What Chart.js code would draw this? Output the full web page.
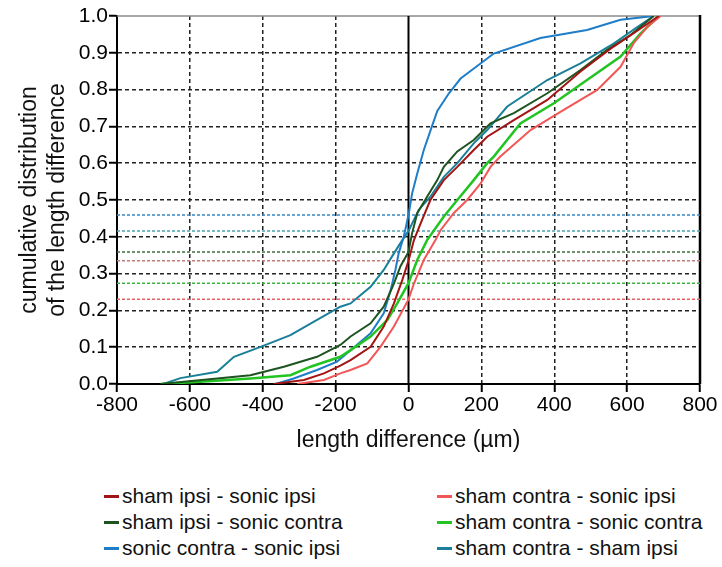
<!DOCTYPE html>
<html>
<head>
<meta charset="utf-8">
<script src="https://cdn.jsdelivr.net/npm/chart.js@4.4.1/dist/chart.umd.min.js"></script>
<style>
  body { margin: 0; background: #fff; }
  #wrap { position: relative; width: 722px; height: 567px; }
  #grafico { position: absolute; left: 0; top: 0; }
  #leyenda { position: absolute; left: 0; top: 483px; width: 722px; font-family: 'Liberation Sans', Arial, sans-serif; font-size: 21px; color: #111; }
</style>
</head>
<body>
<div id="wrap">
  <canvas id="grafico" width="722" height="465"></canvas>
  <div id="leyenda"></div>
</div>
<script>
// series names, in legend order
const nombres = [
  'sham ipsi - sonic ipsi', 'sham contra - sonic ipsi',
  'sham ipsi - sonic contra', 'sham contra - sonic contra',
  'sonic contra - sonic ipsi', 'sham contra - sham ipsi'
];

// cumulative curves (x = length difference, y = fraction)
const shamIpsiSonicIpsiX = [-370, -287, -232, -187, -159, -104, -68, -40, -17, 0, 15, 33, 60, 97, 134, 179, 216, 289, 381, 472, 563, 628, 687];
const shamIpsiSonicIpsiY = [0, 0.011, 0.029, 0.05, 0.065, 0.101, 0.156, 0.219, 0.283, 0.335, 0.391, 0.436, 0.5, 0.554, 0.59, 0.636, 0.672, 0.717, 0.772, 0.849, 0.917, 0.96, 1.0];

const shamContraSonicIpsiX = [-305, -232, -187, -159, -113, -77, -40, 0, 15, 42, 74, 88, 124, 161, 198, 225, 252, 335, 426, 518, 582, 618, 655, 692];
const shamContraSonicIpsiY = [0, 0.011, 0.029, 0.038, 0.056, 0.101, 0.156, 0.23, 0.273, 0.337, 0.391, 0.418, 0.464, 0.5, 0.545, 0.59, 0.618, 0.69, 0.745, 0.799, 0.862, 0.926, 0.97, 1.0];

const shamIpsiSonicContraX = [-680, -525, -434, -342, -251, -187, -159, -104, -68, -40, -22, 0, 10, 24, 51, 79, 97, 134, 179, 225, 289, 381, 472, 545, 609, 673];
const shamIpsiSonicContraY = [0, 0.015, 0.024, 0.047, 0.074, 0.106, 0.129, 0.165, 0.21, 0.273, 0.32, 0.359, 0.41, 0.464, 0.509, 0.554, 0.59, 0.632, 0.663, 0.708, 0.736, 0.79, 0.853, 0.908, 0.948, 1.0];

const shamContraSonicContraX = [-680, -571, -434, -324, -269, -187, -159, -104, -58, -31, 0, 24, 51, 97, 134, 179, 216, 234, 307, 399, 490, 582, 637, 687];
const shamContraSonicContraY = [0, 0.006, 0.015, 0.024, 0.047, 0.074, 0.092, 0.129, 0.174, 0.219, 0.274, 0.337, 0.391, 0.455, 0.5, 0.554, 0.6, 0.618, 0.708, 0.763, 0.826, 0.89, 0.953, 1.0];

const sonicContraSonicIpsiX = [-365, -315, -251, -196, -159, -104, -68, -49, -36, -27, -13, 0, 10, 24, 42, 60, 79, 111, 143, 234, 362, 490, 582, 673];
const sonicContraSonicIpsiY = [0, 0.015, 0.038, 0.061, 0.092, 0.138, 0.192, 0.255, 0.31, 0.355, 0.40, 0.459, 0.518, 0.572, 0.636, 0.688, 0.742, 0.79, 0.83, 0.898, 0.94, 0.962, 0.99, 1.0];

const shamContraShamIpsiX = [-673, -626, -525, -479, -406, -324, -251, -187, -159, -104, -68, -40, -17, 0, 28, 60, 97, 134, 179, 216, 271, 381, 472, 563, 628, 673];
const shamContraShamIpsiY = [0, 0.016, 0.033, 0.074, 0.101, 0.133, 0.174, 0.21, 0.219, 0.264, 0.31, 0.355, 0.391, 0.416, 0.473, 0.509, 0.563, 0.6, 0.654, 0.69, 0.754, 0.826, 0.871, 0.925, 0.97, 1.0];

// value of each curve at x = 0 (dashed horizontal lines)
const valoresEnCero = [0.335, 0.230, 0.359, 0.274, 0.459, 0.416];

const colores = ['#a31414', '#f25656', '#1e5420', '#22c422', '#1f7dc8', '#1a7f98'];
const coloresGuia = ['#c07a7a', '#e86060', '#3f6f3f', '#3cb43c', '#3a86c2', '#4ea2b2'];

const xTicks = [-800, -600, -400, -200, 0, 200, 400, 600, 800];

const seriesX = [shamIpsiSonicIpsiX, shamContraSonicIpsiX, shamIpsiSonicContraX, shamContraSonicContraX, sonicContraSonicIpsiX, shamContraShamIpsiX];
const seriesY = [shamIpsiSonicIpsiY, shamContraSonicIpsiY, shamIpsiSonicContraY, shamContraSonicContraY, sonicContraSonicIpsiY, shamContraShamIpsiY];

const fuente = "'Liberation Sans', Arial, sans-serif";

const datasets = [];
seriesX.forEach((xs, i) => {
  datasets.push({
    label: nombres[i],
    data: xs.map((x, j) => ({ x: x, y: seriesY[i][j] })),
    borderColor: colores[i],
    borderWidth: i === 3 ? 2.5 : 2,
    pointRadius: 0,
    tension: 0,
    order: 0
  });
});
// dashed guides
valoresEnCero.forEach((v, i) => {
  datasets.push({
    label: 'guia ' + i,
    data: [{ x: -800, y: v }, { x: 800, y: v }],
    borderColor: coloresGuia[i],
    borderWidth: 1.5,
    borderDash: [3, 2],
    pointRadius: 0,
    order: 1
  });
});
// solid line at x = 0
datasets.push({
  label: 'cero',
  data: [{ x: 0, y: 0 }, { x: 0, y: 1 }],
  borderColor: '#000',
  borderWidth: 2,
  pointRadius: 0,
  order: 2
});

// marco del area (top gris, derecha negra)
const marco = {
  id: 'marco',
  beforeDatasetsDraw(chart) {
    const a = chart.chartArea;
    const ctx = chart.ctx;
    ctx.save();
    ctx.lineWidth = 1.5;
    ctx.strokeStyle = '#8a8a8a';
    ctx.beginPath();
    ctx.moveTo(a.left, a.top);
    ctx.lineTo(a.right, a.top);
    ctx.stroke();
    ctx.lineWidth = 2.5;
    ctx.strokeStyle = '#000';
    ctx.beginPath();
    ctx.moveTo(a.right, a.top - 1);
    ctx.lineTo(a.right, a.bottom);
    ctx.stroke();
    ctx.restore();
  }
};

new Chart(document.getElementById('grafico'), {
  type: 'line',
  data: { datasets: datasets },
  plugins: [marco],
  options: {
    responsive: false,
    animation: false,
    layout: { padding: { top: 16, right: 22, left: 0, bottom: 0 } },
    plugins: {
      legend: { display: false },
      tooltip: { enabled: false }
    },
    scales: {
      x: {
        type: 'linear',
        min: -800,
        max: 800,
        afterBuildTicks: scale => { scale.ticks = xTicks.map(v => ({ value: v })); },
        afterFit: scale => { scale.height = 81; },
        ticks: {
          color: '#000',
          font: { family: fuente, size: 21 },
          padding: 1,
          maxRotation: 0
        },
        grid: {
          color: ctx => (ctx.tick && (ctx.tick.value === -800 || ctx.tick.value === 800 || ctx.tick.value === 0)) ? 'rgba(0,0,0,0)' : '#222',
          lineWidth: 1.5,
          tickColor: '#000',
          tickLength: 8,
          tickWidth: 2
        },
        border: { display: true, color: '#000', width: 2, dash: [4, 3] },
        title: {
          display: true,
          text: 'length difference (µm)',
          color: '#111',
          font: { family: fuente, size: 23 },
          padding: { top: 4, bottom: 11 }
        }
      },
      y: {
        min: 0,
        max: 1,
        ticks: {
          stepSize: 0.1,
          color: '#000',
          font: { family: fuente, size: 21 },
          padding: 1,
          callback: v => v.toFixed(1)
        },
        afterFit: scale => { scale.width = 117; },
        grid: {
          color: ctx => (ctx.tick && (ctx.tick.value === 0 || Math.abs(ctx.tick.value - 1) < 1e-9)) ? 'rgba(0,0,0,0)' : '#222',
          lineWidth: 1.5,
          tickColor: '#000',
          tickLength: 8,
          tickWidth: 2
        },
        border: { display: true, color: '#000', width: 2, dash: [4, 3] },
        title: {
          display: true,
          text: ['cumulative distribution', 'of the length difference'],
          color: '#111',
          font: { family: fuente, size: 23 },
          padding: { top: 16, bottom: 0 }
        }
      }
    }
  }
});

// leyenda en dos columnas
const columnas = [104, 437];
let leyendaHtml = '';
nombres.forEach((nombre, i) => {
  const col = i % 2;
  const fila = Math.floor(i / 2);
  leyendaHtml += `
    <span style="position:absolute; left:${columnas[col]}px; top:${fila * 26}px; display:inline-flex; align-items:center; white-space:nowrap; line-height:26px;">
      <span style="display:inline-block; width:15px; height:3px; margin-right:3px; background:${colores[i]};"></span>${nombre}
    </span>`;
});
document.getElementById('leyenda').innerHTML = leyendaHtml;
</script>
</body>
</html>
